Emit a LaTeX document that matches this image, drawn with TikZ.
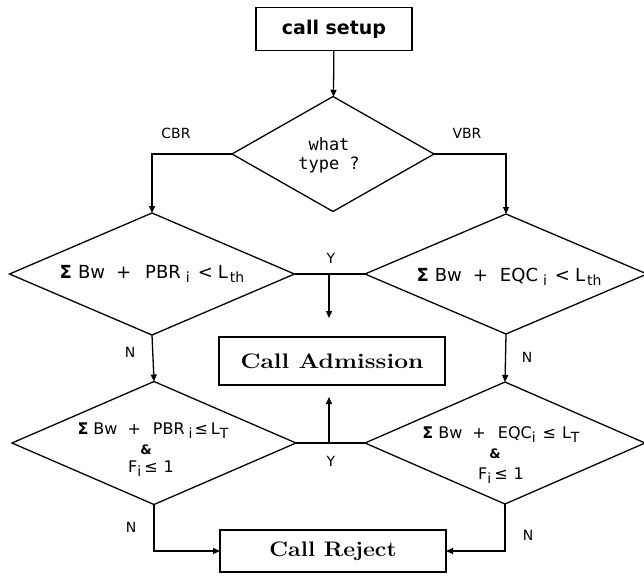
\documentclass[tikz,border=0pt]{standalone}
\usepackage{fontspec}
\usepackage{graphicx}
\usetikzlibrary{shapes.geometric,arrows.meta}
\newfontfamily\sansf{DejaVu Sans}
\newfontfamily\monof{DejaVu Sans Mono}
% lowered index in the condition texts
\newcommand\lowidx[1]{\raisebox{-0.45ex}{\fontsize{14}{14}\selectfont #1}}
\newcommand\sigmab{{\bfseries Σ}}
\begin{document}
\begin{tikzpicture}[x=1pt,y=-1pt,
  line width=1.3pt,
  arr/.style={-{Triangle[length=7pt,width=6pt]}},
  dia/.style={draw,shape=diamond,inner sep=0pt,outer sep=0pt},
  boxn/.style={draw,rectangle,inner sep=0pt,outer sep=0pt},
  lbl/.style={font=\sansf\fontsize{14}{16}\selectfont,inner sep=0pt},
  cond/.style={font=\sansf\fontsize{18}{20}\selectfont,inner sep=0pt},
  cond2/.style={font=\sansf\fontsize{16}{18}\selectfont,inner sep=0pt},
  amp/.style={font=\sansf\bfseries\fontsize{13}{14}\selectfont,inner sep=0pt},
  big/.style={font=\fontsize{21}{24}\selectfont\bfseries,inner sep=0pt}]
\useasboundingbox (0,0) rectangle (644,579);

% boxes
\node[boxn,minimum width=156pt,minimum height=43pt] (setup) at (334,29)
  {\sansf\bfseries\fontsize{19}{22}\selectfont call setup};
\node[boxn,minimum width=226pt,minimum height=48pt] (admit) at (332,361) {};
\node[big] (admittxt) at (admit.center) {\scalebox{1.17}[1]{Call Admission}};
\node[boxn,minimum width=226pt,minimum height=42pt] (reject) at (333,551) {};
\node[big] (rejecttxt) at (reject.center) {\scalebox{1.1}[1]{Call Reject}};

% decisions
\node[dia,minimum width=202pt,minimum height=115pt] (type) at (333,154) {};
\node[font=\monof\fontsize{17}{19}\selectfont,align=center,inner sep=0pt] (typetxt) at (329,155) {what\\type ?};
\node[dia,minimum width=285pt,minimum height=122pt] (cbr1) at (152,274) {};
\node[dia,minimum width=282pt,minimum height=120pt] (vbr1) at (506,274) {};
\node[dia,minimum width=284pt,minimum height=123pt] (cbr2) at (154,443) {};
\node[dia,minimum width=280pt,minimum height=122pt] (vbr2) at (505,443) {};

\node[cond] (cbr1txt) at (152,274)
  {\sigmab\hspace{6pt}Bw\hspace{11pt}+\hspace{14pt}PBR\hspace{5pt}\lowidx{i}\hspace{8pt}<\hspace{5pt}L\hspace{2pt}\lowidx{th}};
\node[cond] (vbr1txt) at (509,277)
  {\sigmab\hspace{6pt}Bw\hspace{11pt}+\hspace{12pt}EQC\hspace{5pt}\lowidx{i}\hspace{8pt}<\hspace{5pt}L\hspace{2pt}\lowidx{th}};

\node[cond2] (cbr2a) at (153,431)
  {\sigmab\hspace{5pt}Bw\hspace{10pt}+\hspace{12pt}PBR\hspace{4pt}\lowidx{i}\hspace{2pt}≤\hspace{3pt}L\lowidx{T}};
\node[amp] (cbr2b) at (146,450) {\&};
\node[cond2] (cbr2c) at (151,469) {F\lowidx{i}\hspace{3pt}≤\hspace{6pt}1};
\node[cond2] (vbr2a) at (501,435)
  {\sigmab\hspace{5pt}Bw\hspace{10pt}+\hspace{12pt}EQC\lowidx{i}\hspace{7pt}≤\hspace{6pt}L\lowidx{T}};
\node[amp] (vbr2b) at (495,454) {\&};
\node[cond2] (vbr2c) at (501,476) {F\lowidx{i}\hspace{3pt}≤\hspace{6pt}1};

% connectors
\draw[arr] (setup) -- (type);
\draw[arr] (type.west) -| (cbr1.north);
\draw[arr] (type.east) -| (vbr1.north);
\draw (cbr1.east) -- (vbr1.west);
\coordinate (yes1) at (329,274);
\draw[arr,shorten >=19pt] (yes1) -- (yes1 |- admit.north);
\draw (cbr2.east) -- (vbr2.west);
\coordinate (yes2) at (329,443);
\draw[arr,shorten >=12pt] (yes2) -- (yes2 |- admit.south);
\draw[arr] (cbr1.south) -- (cbr2.north);
\draw[arr] (vbr1.south) -- (vbr2.north);
\draw[arr] (cbr2.south) |- (reject.west);
\draw[arr] (vbr2.south) |- (reject.east);

% branch labels
\node[lbl] (lcbr) at (176,133) {CBR};
\node[lbl] (lvbr) at (467,133) {VBR};
\node[lbl] (ly1) at (331,258) {Y};
\node[lbl] (ly2) at (331,461) {Y};
\node[lbl] (ln1) at (130,352) {N};
\node[lbl] (ln2) at (527,357) {N};
\node[lbl] (ln3) at (131,527) {N};
\node[lbl] (ln4) at (528,535) {N};
\end{tikzpicture}
\end{document}
